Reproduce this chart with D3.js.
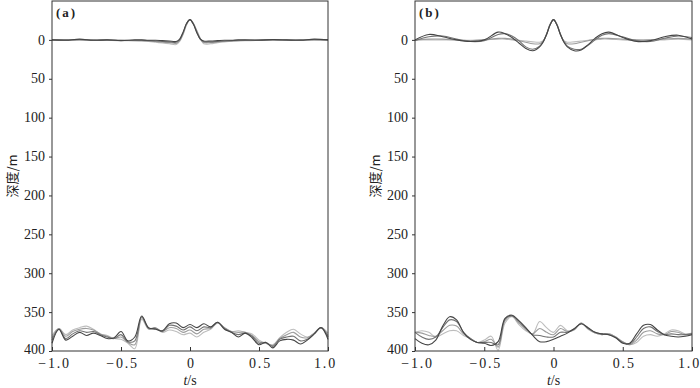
<!DOCTYPE html>
<html>
<head>
<meta charset="utf-8">
<script src="https://cdn.jsdelivr.net/npm/d3@7"></script>
<style>
  body { margin: 0; background: #fff; }
  svg { display: block; }
</style>
</head>
<body>
<div id="chart"></div>
<script>
const width = 700;
const height = 388;

// tick values and labels
const xTicks = [-1, -0.5, 0, 0.5, 1];
const xTickLabels = ['\u22121.0', '\u22120.5', '0', '0.5', '1.0'];
const yTicks = [0, 50, 100, 150, 200, 250, 300, 350, 400];

// sample times (s)
const timeTop = [-1, -0.9, -0.8, -0.7, -0.6, -0.5, -0.4, -0.35, -0.3, -0.25, -0.2, -0.15, -0.1, -0.075, -0.05, -0.025, 0,
  0.025, 0.05, 0.075, 0.1, 0.15, 0.2, 0.25, 0.3, 0.35, 0.4, 0.5, 0.6, 0.7, 0.8, 0.9, 1];
const timeBottom = [-1, -0.95, -0.9, -0.85, -0.8, -0.75, -0.7, -0.65, -0.6, -0.55, -0.5, -0.45, -0.4, -0.35, -0.3, -0.25, -0.2,
  -0.15, -0.1, -0.05, 0, 0.05, 0.1, 0.15, 0.2, 0.25, 0.3, 0.35, 0.4, 0.45, 0.5, 0.55, 0.6, 0.65, 0.7, 0.75, 0.8, 0.85, 0.9, 0.95, 1];

// (a) wavelet traces at depth 0 (m), dark -> light
const topA1 = [0, 0.5, -1, 0.5, 0, 1, 0, 0, 0.5, 0.5, 1, 1.5, 2, -1, -10, -21, -26, -20, -9, -1, 1.5, 1.5, 1, 0.5, 0.5, 0, 0, 0.5, -0.5, 0, 0.5, -1, 0];
const topA2 = [0, 0, -0.5, 0.5, 0, 0.5, 0.5, 0.5, 1, 1.5, 2, 2.5, 3, 0, -9, -21, -26, -20, -10, -1, 2.5, 2.5, 2, 1.5, 1, 0.5, 0.5, 0, 0, 0.5, 0, -0.5, 0];
const topA3 = [0, 0.5, 0, 0, 0.5, 0.5, 1, 1, 1.5, 2, 3, 3.5, 4.5, 1, -8, -20, -26, -21, -11, -1, 3.5, 3.5, 2.5, 2, 1.5, 1, 0.5, 0.5, 0, 0, 0.5, 0, 0];
const topA4 = [0, 0, 0.5, 0, 0.5, 1, 1, 1.5, 2, 3, 4, 5, 6, 2, -7, -19, -26, -21, -12, -2, 5, 5, 3.5, 2.5, 2, 1.5, 1, 0.5, 0.5, 0, 0, 0.5, 0];

// (a) traces near 375 m
const botA1 = [390, 372, 386, 381, 376, 380, 377, 380, 384, 383, 375, 387, 382, 355, 370, 372, 374, 365, 364, 370, 366,
  370, 365, 369, 363, 372, 376, 382, 377, 383, 392, 389, 396, 387, 385, 386, 391, 386, 378, 370, 385];
const botA2 = [386, 372, 384, 378, 374, 376, 375, 379, 382, 384, 379, 388, 387, 356, 371, 371, 375, 367, 368, 373, 369,
  374, 369, 370, 363, 371, 376, 379, 377, 381, 390, 389, 394, 385, 382, 381, 387, 385, 378, 370, 382];
const botA3 = [383, 371, 381, 375, 372, 371, 373, 378, 381, 384, 382, 389, 392, 357, 371, 370, 375, 370, 371, 376, 373,
  378, 372, 371, 364, 370, 375, 376, 376, 380, 388, 390, 393, 384, 379, 376, 382, 383, 377, 370, 380];
const botA4 = [380, 371, 379, 373, 370, 368, 372, 378, 380, 384, 385, 390, 397, 359, 372, 370, 376, 373, 375, 379, 377,
  382, 376, 372, 364, 370, 375, 374, 376, 378, 386, 390, 392, 383, 376, 372, 378, 382, 377, 370, 377];

// (b) wavelet traces at depth 0 (m)
const topB1 = [0, -7, -4, 0, 2, 0, -10, -8, -3, 4, 11, 14, 9, 3, -7, -19, -26, -19, -7, 3, 9, 14, 13, 6, -2, -8, -10, -3, 2, 1, -4, -6, -1];
const topB2 = [1, -4, -5, -1, 2, 1, -7, -8, -5, 1, 9, 12, 8, 2, -7, -19, -26, -19, -7, 2, 8, 12, 12, 7, 0, -6, -8, -4, 1, 2, -2, -5, -3];
const topB3 = [0, -1, -1, 0, 1, 0, -2, -2, -1, 1, 3, 5, 5, 2, -7, -20, -26, -20, -7, 2, 5, 5, 3, 1, -1, -2, -2, -1, 0, 0, -1, -2, -1];
const topB4 = [0, 0, 0, 0, 0.5, 0, -1, -1, 0, 0.5, 1.5, 2.5, 3, 1, -8, -20, -26, -20, -8, 1, 3, 2.5, 1.5, 0.5, 0, -1, -1, 0, 0.5, 0, 0, -1, 0];

// (b) traces near 375 m
const botB1 = [384, 390, 392, 386, 368, 356, 360, 376, 385, 389, 390, 393, 388, 358, 354, 361, 370, 380, 388, 388, 385,
  381, 377, 371, 365, 370, 376, 378, 379, 383, 390, 390, 378, 367, 366, 373, 379, 381, 382, 381, 379];
const botB2 = [376, 382, 385, 382, 370, 360, 362, 376, 384, 389, 389, 389, 392, 359, 355, 362, 371, 379, 380, 382, 382,
  376, 376, 372, 365, 371, 376, 378, 379, 383, 389, 391, 382, 371, 369, 375, 379, 378, 379, 379, 378];
const botB3 = [376, 377, 380, 381, 374, 367, 368, 378, 384, 389, 388, 385, 395, 361, 355, 364, 372, 378, 371, 376, 379,
  371, 375, 372, 364, 371, 377, 379, 378, 382, 388, 392, 386, 376, 374, 378, 379, 375, 376, 379, 378];
const botB4 = [376, 374, 376, 382, 378, 374, 374, 380, 384, 389, 386, 381, 399, 364, 356, 366, 374, 378, 362, 370, 376,
  367, 374, 373, 364, 372, 377, 379, 378, 382, 388, 392, 389, 381, 379, 381, 378, 373, 374, 378, 377];

const traceColors = ['#454545', '#727272', '#9c9c9c', '#bdbdbd'];

const panels = [
    { label: '(a)', left: 52, right: 328, top: [topA1, topA2, topA3, topA4], bottom: [botA1, botA2, botA3, botA4] },
    { label: '(b)', left: 415, right: 692, top: [topB1, topB2, topB3, topB4], bottom: [botB1, botB2, botB3, botB4] }
];

const plotTop = 1;
const plotBottom = 351;
const serif = '"Liberation Serif", "DejaVu Serif", serif';
const cjk = '"Noto Sans CJK SC", "Noto Sans", sans-serif';

const svg = d3
    .select('#chart')
    .append('svg')
    .attr('width', width)
    .attr('height', height);

const yScale = d3.scaleLinear().domain([-50, 400]).range([plotTop, plotBottom]);

panels.forEach((p) => {
    const xScale = d3.scaleLinear().domain([-1, 1]).range([p.left, p.right]);
    const g = svg.append('g');

    const line = (times) => d3.line()
        .x((d, i) => xScale(times[i]))
        .y((d) => yScale(d))
        .curve(d3.curveCatmullRom.alpha(0.5));

    // traces, light first so the dark ones sit on top
    const groups = [[timeTop, p.top], [timeBottom, p.bottom]];
    groups.forEach(([times, traces]) => {
        traces.slice().reverse().forEach((tr, k) => {
            g.append('path')
                .datum(tr)
                .attr('fill', 'none')
                .attr('stroke', traceColors[traces.length - 1 - k])
                .attr('stroke-width', 1.1)
                .attr('d', line(times));
        });
    });

    // frame
    g.append('rect')
        .attr('x', p.left)
        .attr('y', plotTop)
        .attr('width', p.right - p.left)
        .attr('height', plotBottom - plotTop)
        .attr('fill', 'none')
        .attr('stroke', '#333')
        .attr('stroke-width', 1);

    // y axis
    const yAxis = g.append('g')
        .attr('transform', `translate(${p.left},0)`)
        .call(d3.axisLeft(yScale).tickValues(yTicks).tickSize(3).tickSizeOuter(0).tickPadding(4));
    yAxis.select('.domain').remove();
    yAxis.selectAll('line').attr('stroke', '#333');
    yAxis.selectAll('text')
        .attr('fill', '#222')
        .attr('dy', (d) => d === 400 ? '0.15em' : '0.3em')
        .style('font-family', serif)
        .style('font-size', '14px');

    // x axis, ticks pointing in
    const xAxis = g.append('g')
        .attr('transform', `translate(0,${plotBottom})`)
        .call(d3.axisBottom(xScale).tickValues(xTicks).tickSize(-4).tickSizeOuter(0)
            .tickFormat((d, i) => xTickLabels[i]));
    xAxis.select('.domain').remove();
    xAxis.selectAll('line').attr('stroke', '#333');
    xAxis.selectAll('text')
        .attr('fill', '#222')
        .attr('y', 7)
        .attr('dx', (d, i) => i === xTicks.length - 1 ? '-3' : (i === 0 ? '2' : '1'))
        .style('font-family', serif)
        .style('font-size', '14px')
        .style('letter-spacing', '1.8px');

    // axis titles
    const xt = g.append('text')
        .attr('x', (p.left + p.right) / 2)
        .attr('y', 385)
        .attr('text-anchor', 'middle')
        .attr('fill', '#222')
        .style('font-family', serif)
        .style('font-size', '14px');
    xt.append('tspan').attr('font-style', 'italic').text('t');
    xt.append('tspan').text('/s');

    g.append('text')
        .attr('transform', `translate(${p.left - 40},${(plotTop + plotBottom) / 2}) rotate(-90)`)
        .attr('text-anchor', 'middle')
        .attr('dy', '0.35em')
        .attr('fill', '#222')
        .style('font-family', cjk)
        .style('font-size', '13px')
        .text('深度/m');

    // panel label
    g.append('text')
        .attr('x', p.left + 4)
        .attr('y', 17)
        .attr('fill', '#222')
        .style('font-family', serif)
        .style('font-size', '13px')
        .style('font-weight', 'bold')
        .style('letter-spacing', '2px')
        .text(p.label);
});
</script>
</body>
</html>
